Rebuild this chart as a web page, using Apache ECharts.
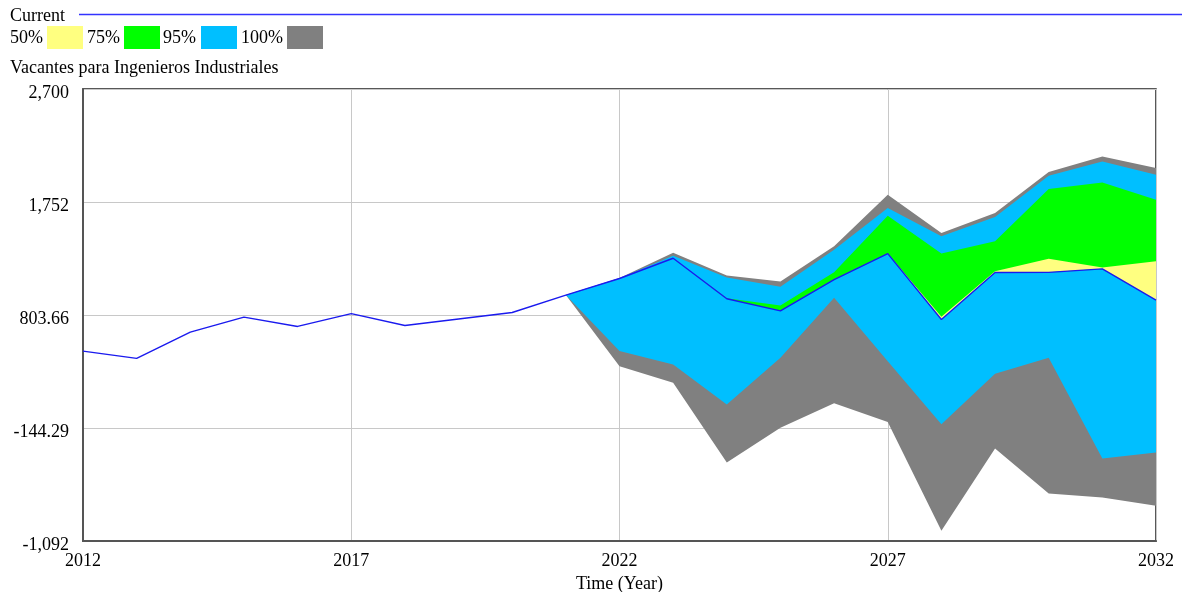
<!DOCTYPE html>
<html>
<head>
<meta charset="utf-8">
<script src="https://cdn.jsdelivr.net/npm/echarts@6/dist/echarts.min.js"></script>
<style>
html,body{margin:0;padding:0;background:#fff;}
#chart{width:1182px;height:592px;}
</style>
</head>
<body>
<div id="chart"></div>
<script>
// ---- data ----
const years = [2012,2013,2014,2015,2016,2017,2018,2019,2020,2021,2022,2023,2024,2025,2026,2027,2028,2029,2030,2031,2032];
const current = [501,440,660,786,708,816,716,770,825,971,1110,1280,940,839,1101,1319,766,1160,1162,1191,928];

const bandYears = [2021,2022,2023,2024,2025,2026,2027,2028,2029,2030,2031,2032];
const grayHi   = [971,1115,1327,1135,1084,1380,1813,1492,1660,2003,2134,2037];
const grayLo   = [971,375,236,-434,-141,63,-94,-1007,-317,-694,-727,-797];
const blueHi   = [971,1112,1302,1118,1040,1352,1702,1465,1626,1972,2092,1981];
const blueLo   = [971,501,389,54,445,948,417,-113,311,445,-400,-350];
const greenHi  = [971,1110,1280,945,883,1162,1637,1319,1422,1861,1916,1771];
const greenLo  = [971,1110,1280,940,839,1101,1319,766,1160,1162,1191,928];
const yellowHi = [971,1110,1280,940,839,1101,1319,790,1171,1275,1202,1254];
const yellowLo = [971,1110,1280,940,839,1101,1319,766,1160,1162,1191,928];

const yTickLabels = ['-1,092','-144.29','803.66','1,752','2,700'];
const legendLabels = ['50%','75%','95%','100%'];
const legendColors = ['#FFFF80','#00FF00','#00BFFF','#808080'];

// ---- chart ----
const FONT = 'Liberation Serif';
const yMin = -1092, yMax = 2700, yInt = 948;

// align band arrays to the full category axis
function full(arr) {
  return years.map(y => {
    const k = bandYears.indexOf(y);
    return k < 0 ? '-' : arr[k];
  });
}

function band(name, lo, hi, color, z) {
  const diff = hi.map((v, i) => v - lo[i]);
  return [
    {
      name: name + '_base', type: 'line', stack: name, stackStrategy: 'all',
      data: full(lo),
      symbol: 'none', lineStyle: { width: 0, opacity: 0 }, silent: true, z: z
    },
    {
      name: name, type: 'line', stack: name, stackStrategy: 'all',
      data: full(diff),
      symbol: 'none', lineStyle: { width: 0, opacity: 0 },
      areaStyle: { color: color, opacity: 1 }, silent: true, z: z
    }
  ];
}

const series = [].concat(
  band('100%', grayLo, grayHi, '#808080', 2),
  band('95%', blueLo, blueHi, '#00BFFF', 3),
  band('75%', greenLo, greenHi, '#00FF00', 4),
  band('50%', yellowLo, yellowHi, '#FFFF80', 5),
  [{
    name: 'Current', type: 'line',
    data: current,
    symbol: 'none', lineStyle: { color: '#1a1aee', width: 1.4 }, z: 10, silent: true
  }]
);

// header graphics (legend)
const graphics = [
  { type: 'text', left: 10, top: 7, style: { text: 'Current', font: '18px "' + FONT + '"', fill: '#000' } },
  { type: 'line', shape: { x1: 79, y1: 14.5, x2: 1182, y2: 14.5 }, style: { stroke: '#3333ff', lineWidth: 1.5 } },
  { type: 'text', left: 10, top: 59, style: { text: 'Vacantes para Ingenieros Industriales', font: '18px "' + FONT + '"', fill: '#000' } }
];
const legTextX = [10, 87, 163, 241];
const legBoxX = [47, 124, 201, 287];
legendLabels.forEach((lab, i) => {
  graphics.push({ type: 'text', left: legTextX[i], top: 29, style: { text: lab, font: '18px "' + FONT + '"', fill: '#000' } });
  graphics.push({ type: 'rect', shape: { x: legBoxX[i], y: 26, width: 36, height: 23 }, style: { fill: legendColors[i] } });
});

const chart = echarts.init(document.getElementById('chart'), null, { renderer: 'canvas' });
chart.setOption({
  animation: false,
  backgroundColor: '#fff',
  grid: { left: 83, right: 26, top: 89, bottom: 51, show: true, borderColor: '#222', borderWidth: 1.5,
          backgroundColor: 'transparent', containLabel: false, outerBoundsMode: 'none' },
  xAxis: {
    type: 'category', data: years.map(String), boundaryGap: false,
    name: 'Time (Year)', nameLocation: 'middle', nameGap: 33,
    nameTextStyle: { fontFamily: FONT, fontSize: 18, color: '#000' },
    axisLine: { show: true, onZero: false, lineStyle: { color: '#555', width: 2 } },
    axisTick: { show: false },
    axisLabel: { fontFamily: FONT, fontSize: 18, color: '#000', margin: 11, interval: 4 },
    splitLine: { show: true, interval: 4, lineStyle: { color: '#c8c8c8', width: 1 } }
  },
  yAxis: {
    type: 'value', min: yMin, max: yMax, interval: yInt,
    axisLine: { show: true, lineStyle: { color: '#555', width: 2 } },
    axisTick: { show: false },
    axisLabel: {
      fontFamily: FONT, fontSize: 18, color: '#000', margin: 14,
      verticalAlign: 'top', lineHeight: 8,
      formatter: v => yTickLabels[Math.round((v - yMin) / yInt)]
    },
    splitLine: { show: true, lineStyle: { color: '#c8c8c8', width: 1 } }
  },
  graphic: graphics,
  series: series
});
</script>
</body>
</html>
